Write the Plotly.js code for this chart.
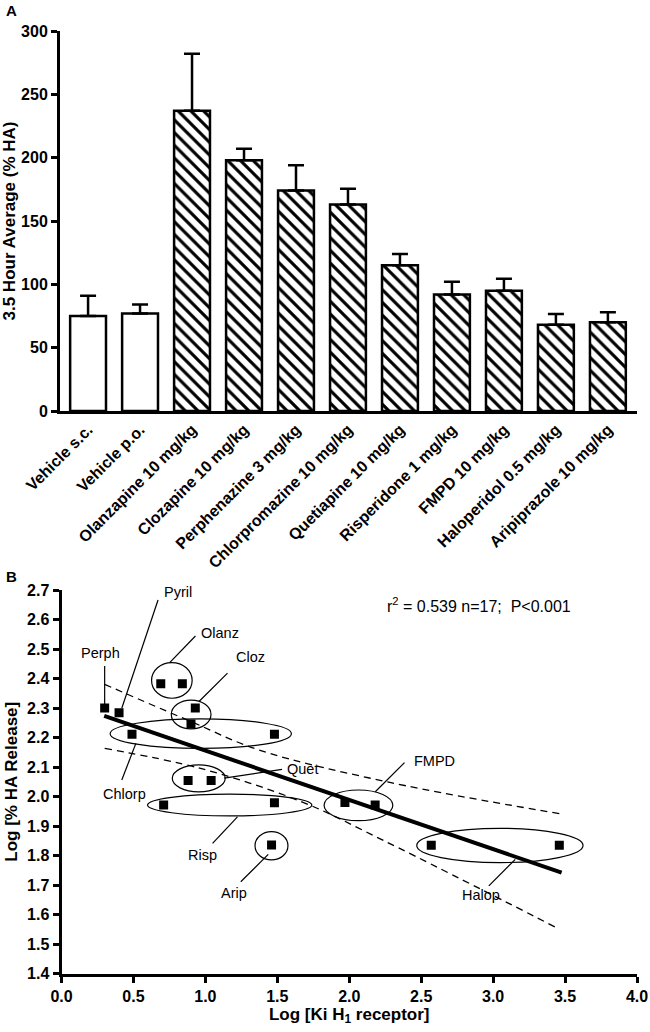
<!DOCTYPE html>
<html>
<head>
<meta charset="utf-8">
<script src="https://cdn.plot.ly/plotly-3.0.1.min.js"></script>
<style>html,body{margin:0;padding:0;background:#fff;}#chart{width:650px;height:1032px;}</style>
</head>
<body>
<div id="chart"></div>
<script>
// ---------- Panel A data ----------
const categories = ["Vehicle s.c.", "Vehicle p.o.", "Olanzapine 10 mg/kg", "Clozapine 10 mg/kg",
  "Perphenazine 3 mg/kg", "Chlorpromazine 10 mg/kg", "Quetiapine 10 mg/kg", "Risperidone 1 mg/kg",
  "FMPD 10 mg/kg", "Haloperidol 0.5 mg/kg", "Aripiprazole 10 mg/kg"];
const meanHA = [75, 77, 237, 198, 174, 163, 115, 92, 95, 68, 70];
const semHA = [16, 7, 45, 9, 20, 12.5, 9, 10, 9.5, 8.6, 8];
const isVehicle = [true, true, false, false, false, false, false, false, false, false, false];
const yTicksA = [0, 50, 100, 150, 200, 250, 300];

// ---------- Panel B data ----------
const drugX = [0.30, 0.40, 0.69, 0.84, 0.93, 0.90, 0.49, 1.48, 0.88, 1.04, 0.71, 1.48, 1.46, 1.97, 2.18, 2.57, 3.46];
const drugY = [2.300, 2.284, 2.382, 2.382, 2.300, 2.246, 2.211, 2.211, 2.054, 2.054, 1.971, 1.979, 1.836, 1.980, 1.971, 1.835, 1.835];
const fitX = [0.297, 3.476];
const fitY = [2.273, 1.742];
const upperX = [0.30, 0.90, 1.37, 2.29, 3.46];
const upperY = [2.380, 2.254, 2.158, 2.047, 1.942];
const lowerX = [0.30, 0.96, 1.67, 2.25, 3.45];
const lowerY = [2.163, 2.096, 1.982, 1.848, 1.553];

const groupLabels = ["Perph", "Pyril", "Olanz", "Cloz", "Chlorp", "Quet", "Risp", "Arip", "FMPD", "Halop"];
const labelX = [0.27, 0.81, 1.10, 1.315, 0.44, 1.676, 0.977, 1.20, 2.59, 2.913];
const labelY = [2.485, 2.694, 2.553, 2.472, 2.008, 2.093, 1.802, 1.672, 2.121, 1.666];
const leaderX0 = [0.30, 0.671, 0.931, 1.154, 0.419, 1.533, 1.050, 1.246, 2.384, 2.970];
const leaderY0 = [2.442, 2.666, 2.544, 2.418, 2.056, 2.092, 1.841, 1.711, 2.115, 1.697];
const leaderX1 = [0.30, 0.419, 0.752, 0.954, 0.517, 1.131, 1.223, 1.437, 2.181, 3.154];
const leaderY1 = [2.310, 2.299, 2.454, 2.321, 2.180, 2.062, 1.931, 1.804, 2.016, 1.787];

const ellipseNames = ["Olanz", "Cloz", "Chlorp", "Quet", "Risp", "Arip", "FMPD", "Halop"];
const ellX0 = [0.626, 0.763, 0.338, 0.770, 0.598, 1.345, 1.825, 2.469];
const ellX1 = [0.908, 1.039, 1.598, 1.138, 1.740, 1.574, 2.303, 3.625];
const ellY0 = [2.333, 2.229, 2.163, 2.016, 1.934, 1.785, 1.918, 1.776];
const ellY1 = [2.454, 2.327, 2.263, 2.107, 2.008, 1.881, 2.022, 1.892];

const statText = "r<sup>2</sup> = 0.539 n=17;  P<0.001";
const statX = 2.9, statY = 2.649;

const FONT = "Liberation Sans, Arial, sans-serif";

const traces = [
  {
    type: "bar", x: categories, y: meanHA, xaxis: "x", yaxis: "y",
    width: 0.69,
    marker: {
      color: "#ffffff",
      line: {color: "#000", width: 2.5},
      pattern: {shape: isVehicle.map(v => v ? "" : "\\"), fgcolor: "#000", bgcolor: "#fff", size: 9, solidity: 0.35}
    },
    error_y: {type: "data", symmetric: false, array: semHA, arrayminus: semHA.map(() => 0),
      color: "#000", thickness: 2.5, width: 8},
    showlegend: false, hoverinfo: "skip"
  },
  {
    type: "scatter", mode: "lines", x: upperX, y: upperY, xaxis: "x2", yaxis: "y2",
    line: {color: "#000", width: 1.3, dash: "7px,5px", shape: "spline"}, showlegend: false
  },
  {
    type: "scatter", mode: "lines", x: lowerX, y: lowerY, xaxis: "x2", yaxis: "y2",
    line: {color: "#000", width: 1.3, dash: "7px,5px", shape: "spline"}, showlegend: false
  },
  {
    type: "scatter", mode: "lines", x: fitX, y: fitY, xaxis: "x2", yaxis: "y2",
    line: {color: "#000", width: 4}, showlegend: false
  },
  {
    type: "scatter", mode: "markers", x: drugX, y: drugY, xaxis: "x2", yaxis: "y2",
    marker: {symbol: "square", size: 9, color: "#000"}, showlegend: false
  }
];

const shapes = [];
for (let i = 0; i < ellipseNames.length; i++) {
  shapes.push({type: "circle", xref: "x2", yref: "y2", x0: ellX0[i], x1: ellX1[i], y0: ellY0[i], y1: ellY1[i],
    line: {color: "#000", width: 1.2}, fillcolor: "rgba(0,0,0,0)", layer: "above"});
}
for (let i = 0; i < groupLabels.length; i++) {
  shapes.push({type: "line", xref: "x2", yref: "y2", x0: leaderX0[i], y0: leaderY0[i], x1: leaderX1[i], y1: leaderY1[i],
    line: {color: "#000", width: 1.2}, layer: "above"});
}

const annotations = [
  {text: "A", xref: "paper", yref: "paper", x: 4/650, y: 1 - 10/1032, xanchor: "left", yanchor: "middle",
    showarrow: false, font: {family: FONT, size: 15, weight: "bold", color: "#000"}},
  {text: "B", xref: "paper", yref: "paper", x: 4/650, y: 1 - 576/1032, xanchor: "left", yanchor: "middle",
    showarrow: false, font: {family: FONT, size: 15, weight: "bold", color: "#000"}},
  {text: statText, xref: "x2", yref: "y2", x: statX, y: statY, showarrow: false,
    font: {family: FONT, size: 16, color: "#000"}}
];
for (let i = 0; i < groupLabels.length; i++) {
  annotations.push({text: groupLabels[i], xref: "x2", yref: "y2", x: labelX[i], y: labelY[i], showarrow: false,
    font: {family: FONT, size: 14.5, color: "#000"}});
}

const layout = {
  width: 650, height: 1032,
  margin: {l: 0, r: 0, t: 0, b: 0},
  paper_bgcolor: "#fff", plot_bgcolor: "#fff",
  font: {family: FONT, color: "#000"},
  showlegend: false,
  xaxis: {
    domain: [60/650, 637/650], anchor: "y", range: [-0.54, 10.56],
    showline: true, linecolor: "#000", linewidth: 3, ticks: "", showgrid: false, zeroline: false,
    tickangle: -45, tickfont: {family: FONT, size: 16, weight: "bold", color: "#000"},
    fixedrange: true
  },
  yaxis: {
    domain: [(1032-411)/1032, (1032-31)/1032], anchor: "x", range: [0, 300],
    tickvals: yTicksA, ticktext: yTicksA.map(String),
    showline: true, linecolor: "#000", linewidth: 3, ticks: "outside", ticklen: 6, tickwidth: 3, tickcolor: "#000",
    showgrid: false, zeroline: false,
    tickfont: {family: FONT, size: 16, weight: "bold", color: "#000"},
    title: {text: "3.5 Hour Average (% HA)", font: {family: FONT, size: 17, weight: "bold", color: "#000"}, standoff: 6}
  },
  xaxis2: {
    domain: [61.5/650, 637/650], anchor: "y2", range: [0, 4], dtick: 0.5, tick0: 0, tickformat: ".1f",
    showline: true, linecolor: "#000", linewidth: 3, ticks: "outside", ticklen: 6, tickwidth: 3, tickcolor: "#000",
    showgrid: false, zeroline: false, ticklabeloverflow: "allow",
    tickfont: {family: FONT, size: 16, weight: "bold", color: "#000"},
    title: {text: "Log [Ki H<sub>1</sub> receptor]", font: {family: FONT, size: 17, weight: "bold", color: "#000"}, standoff: 4}
  },
  yaxis2: {
    domain: [(1032-973.5)/1032, (1032-590)/1032], anchor: "x2", range: [1.4, 2.7], dtick: 0.1, tick0: 1.4, tickformat: ".1f",
    showline: true, linecolor: "#000", linewidth: 3, ticks: "outside", ticklen: 6, tickwidth: 3, tickcolor: "#000",
    showgrid: false, zeroline: false,
    tickfont: {family: FONT, size: 16, weight: "bold", color: "#000"},
    title: {text: "Log [% HA Release]", font: {family: FONT, size: 17, weight: "bold", color: "#000"}, standoff: 6}
  },
  shapes: shapes,
  annotations: annotations
};

Plotly.newPlot("chart", traces, layout, {staticPlot: true, displayModeBar: false});
</script>
</body>
</html>
